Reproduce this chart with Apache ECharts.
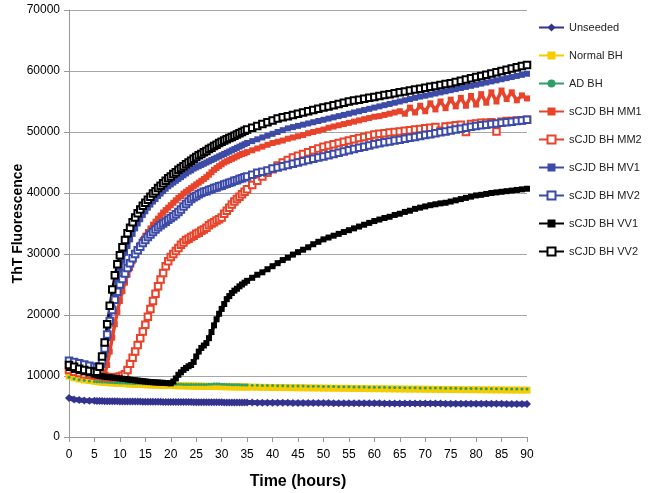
<!DOCTYPE html>
<html>
<head>
<meta charset="utf-8">
<script src="https://cdn.jsdelivr.net/npm/echarts@6/dist/echarts.min.js"></script>
<style>html,body{margin:0;padding:0;background:#fff}#c{width:649px;height:493px}</style>
</head>
<body>
<div id="c"></div>
<script>
const hours = [0,1,2,3,4,5,
5.5,6,6.5,7,7.5,8,8.5,9,9.5,10,
10.5,11,11.5,12,12.5,13,13.5,14,14.5,15,
15.5,16,16.5,17,17.5,18,18.5,19,19.5,20,
20.5,21,21.5,22,22.5,23,23.5,24,24.5,25,
25.5,26,26.5,27,27.5,28,28.5,29,29.5,30,
30.5,31,31.5,32,32.5,33,33.5,34,34.5,35,
36,37,38,39,40,41,42,43,44,45,46,47,48,49,50,51,52,53,54,55,56,57,58,59,60,61,62,63,64,65,66,67,68,69,70,71,72,73,74,75,76,77,78,79,80,81,82,83,84,85,86,87,88,89,90];
const xTicks = [0,5,10,15,20,25,30,35,40,45,50,55,60,65,70,75,80,85,90];
const yTicks = [0,10000,20000,30000,40000,50000,60000,70000];
const seriesNames = ['Unseeded','Normal BH','AD BH','sCJD BH MM1','sCJD BH MM2','sCJD BH MV1','sCJD BH MV2','sCJD BH VV1','sCJD BH VV2'];

const unseeded = [6400,6150,6050,6000,5960,5930,
5920,5900,5890,5880,5875,5870,5860,5850,5845,5840,
5835,5830,5825,5820,5810,5800,5800,5800,5795,5790,
5785,5780,5775,5770,5765,5760,5755,5750,5750,5750,
5745,5740,5735,5730,5725,5720,5720,5720,5715,5710,
5705,5700,5700,5700,5695,5690,5685,5680,5680,5680,
5675,5670,5665,5660,5660,5660,5655,5650,5650,5650,
5640,5630,5630,5620,
5620,5610,5600,5600,5590,5590,5580,5580,5570,5570,
5560,5560,5550,5550,5540,5540,5530,5530,5530,5520,
5520,5520,5510,5510,5510,5500,5500,5500,5490,5490,
5490,5480,5480,5480,5470,5470,5470,5460,5460,5460,
5450,5450,5450,5440,5440,5440,5430,5430,5430,5420,
5420];
const normalBH = [10000,9700,9500,9350,9250,9150,
9100,9050,9000,8950,8920,8900,8870,8850,8820,8800,
8770,8750,8720,8700,8670,8650,8630,8620,8600,8580,
8560,8550,8530,8520,8510,8500,8480,8470,8460,8450,
8430,8420,8410,8400,8390,8380,8370,8360,8350,8340,
8330,8320,8310,8300,8295,8290,8280,8270,8265,8260,
8250,8240,8235,8230,8220,8210,8205,8200,8190,8180,
8170,8160,8140,8130,
8120,8110,8100,8090,8080,8070,8060,8050,8040,8030,
8020,8010,8000,7990,7980,7970,7960,7950,7940,7930,
7920,7910,7900,7890,7880,7870,7860,7850,7850,7840,
7830,7820,7810,7800,7800,7790,7780,7770,7760,7760,
7750,7740,7740,7730,7720,7720,7710,7700,7700,7690,
7690];
const adBH = [9800,9550,9400,9300,9200,9100,
9070,9050,9020,9000,8970,8950,8920,8900,8880,8870,
8850,8840,8820,8810,8790,8780,8770,8760,8750,8740,
8730,8720,8710,8700,8690,8680,8675,8670,8660,8650,
8645,8640,8635,8630,8625,8620,8615,8610,8605,8600,
8600,8600,8610,8620,8640,8650,8670,8680,8670,8660,
8640,8620,8600,8580,8570,8560,8550,8540,8530,8520,
8500,8480,8460,8450,
8440,8420,8400,8380,8370,8360,8350,8330,8320,8300,
8290,8280,8260,8250,8240,8220,8210,8200,8180,8170,
8160,8150,8140,8120,8110,8100,8090,8080,8060,8050,
8040,8020,8050,8030,8000,7990,7980,7970,7960,7950,
7940,7930,7920,7910,7900,7890,7880,7870,7860,7850,
7850];
const mm1 = [11000,10800,10600,10400,10300,10200,
10150,10100,10100,10300,11800,14000,16300,18500,20500,22300,
23900,25300,26600,27700,28800,29800,30700,31500,32300,33000,
33600,34200,34800,35300,35800,36300,36800,37200,37600,38000,
38400,38800,39200,39500,39900,40200,40500,40800,41100,41400,
41700,42000,42300,42600,43000,43400,43800,44100,44400,44700,
45000,45200,45400,45600,45800,46000,46200,46400,46500,46700,
47000,47300,47600,47900,
48200,48400,48600,48900,49100,49300,49500,49800,50000,50200,
50400,50700,50900,51100,51300,51500,51700,51900,52100,52300,
52500,52600,52800,53000,53200,53400,53000,54000,53200,54300,
53400,54700,53700,55000,53900,55300,54200,55600,54300,55900,
54500,56200,54800,56500,55000,56800,55400,56500,55200,56000,
55500];
const mm2 = [11000,10700,10500,10300,10200,10100,
10050,10000,9950,9900,9850,9800,9800,9800,9850,9900,
10050,10300,11000,12000,13000,14000,15100,16200,17300,18400,
19700,21000,22300,23500,24700,25800,26900,28000,28800,29500,
30000,30500,31000,31500,31900,32300,32500,32800,33000,33300,
33500,33800,34000,34300,34700,35000,35200,35500,35700,36000,
36600,37100,37600,38100,38600,39000,39400,39800,40200,40600,
41300,42000,42700,43300,
43900,44500,45000,45400,45800,46100,46400,46700,47000,47300,
47600,47800,48000,48200,48400,48600,48800,49000,49200,49400,
49600,49700,49800,49900,50000,50100,50200,50300,50400,50500,
50600,50700,50800,50200,50900,51000,51100,51200,50000,51300,
51400,51500,51500,51600,50100,51700,51800,51800,51900,51900,
52000];
const mv1 = [12500,12200,12000,11800,11600,11400,
11350,11300,11800,13500,16200,19000,21600,24000,25800,27500,
28900,30200,31300,32400,33300,34200,35000,35700,36400,37000,
37600,38100,38600,39000,39500,39900,40300,40700,41100,41400,
41700,42000,42300,42600,42900,43200,43500,43700,44000,44200,
44400,44600,44800,45000,45200,45400,45600,45800,46000,46200,
46400,46600,46800,47000,47200,47400,47600,47800,48000,48200,
48500,48800,49100,49400,
49700,50000,50300,50600,50800,51000,51200,51400,51600,51800,
52000,52200,52400,52600,52800,53000,53200,53400,53600,53800,
54000,54200,54400,54600,54800,55000,55200,55400,55600,55800,
55950,56130,56310,56490,56670,56850,57030,57210,57390,57570,
57750,57930,58110,58290,58470,58650,58830,59010,59190,59370,
59550];
const mv2 = [12500,12300,12100,11900,11700,11500,
11450,11500,12500,14500,16800,19000,20800,22500,23800,25000,
25900,26800,27700,28500,29300,30000,30600,31200,31800,32300,
32800,33200,33600,34000,34400,34700,35000,35300,35600,35900,
36200,36500,36900,37300,37800,38200,38600,39000,39300,39500,
39800,40000,40200,40300,40500,40600,40800,40900,41100,41200,
41400,41500,41700,41800,42000,42100,42300,42400,42600,42700,
43000,43300,43500,43700,
44000,44200,44400,44600,44800,45000,45200,45400,45600,45800,
46000,46200,46400,46600,46800,47000,47200,47400,47600,47800,
48000,48150,48300,48450,48600,48750,48900,49050,49200,49350,
49500,49650,49800,49950,50100,50250,50400,50550,50700,50850,
51000,51100,51200,51300,51400,51500,51600,51700,51800,51900,
52000];
const vv1 = [11300,11000,10800,10600,10400,10200,
10100,10000,9950,9900,9850,9800,9750,9700,9650,9600,
9550,9500,9450,9400,9350,9300,9250,9200,9150,9100,
9050,9000,8980,8950,8930,8900,8880,8850,8830,8800,
9100,9600,10200,10600,11000,11300,11600,11800,12300,13200,
14000,14600,15000,15400,16200,17200,18300,19300,20200,21000,
21800,22600,23100,23600,24000,24300,24700,25000,25300,25600,
26100,26600,27000,27500,
28000,28500,29000,29400,29900,30300,30700,31100,31600,32000,
32400,32700,33000,33300,33600,33900,34200,34500,34800,35100,
35400,35650,35900,36100,36400,36600,36900,37100,37400,37600,
37800,38000,38150,38300,38400,38600,38800,39000,39200,39400,
39600,39700,39850,40000,40100,40200,40300,40400,40500,40600,
40700];
const vv2 = [11800,11500,11200,11000,10800,10700,
10700,11500,13200,15500,18500,21500,24200,26500,28300,29800,
31100,32300,33400,34300,35200,36000,36700,37300,37900,38400,
38900,39400,39900,40300,40800,41200,41600,42000,42400,42700,
43100,43400,43800,44100,44400,44700,45000,45300,45600,45900,
46200,46400,46700,46900,47200,47400,47700,47900,48200,48400,
48600,48800,49000,49200,49400,49600,49800,50000,50200,50400,
50700,51000,51300,51600,
51900,52200,52400,52600,52800,53000,53200,53400,53600,53800,
54000,54200,54400,54600,54800,55000,55150,55300,55450,55600,
55750,55900,56050,56200,56350,56500,56650,56800,56950,57100,
57250,57400,57550,57700,57850,58000,58200,58400,58600,58800,
59000,59200,59400,59600,59800,60000,60200,60400,60600,60800,
61000];

const valueLists = [unseeded, normalBH, adBH, mm1, mm2, mv1, mv2, vv1, vv2];
const styles = [
  {color:'#33338f', symbol:'diamond', size:8, lw:5, legendLw:2},
  {color:'#f5cc00', symbol:'rect', size:7, lw:5, legendLw:2},
  {color:'#2e9e6a', symbol:'circle', size:3, lw:2.5, legendLw:2},
  {color:'#e8432b', symbol:'rect', size:6, lw:3.5, legendLw:2},
  {color:'#e8432b', symbol:'emptyRect', size:6.5, lw:1.2, legendLw:2},
  {color:'#3d4ba8', symbol:'rect', size:6, lw:3.5, legendLw:2},
  {color:'#3d4ba8', symbol:'emptyRect', size:6.5, lw:1.2, legendLw:2},
  {color:'#000000', symbol:'rect', size:6, lw:3.5, legendLw:2},
  {color:'#000000', symbol:'emptyRect', size:6.5, lw:2.5, legendLw:2}
];
const FONT = 'Liberation Sans, Arial, sans-serif';

const series = seriesNames.map((name, i) => ({
  name: name,
  type: 'line',
  data: hours.map((h, j) => [h, valueLists[i][j]]),
  symbol: styles[i].symbol,
  symbolSize: styles[i].size,
  showAllSymbol: true,
  animation: false,
  lineStyle: {color: styles[i].color, width: styles[i].lw},
  itemStyle: {color: styles[i].color, borderColor: styles[i].color, borderWidth: styles[i].symbol === 'emptyRect' ? 1.3 : 0}
}));

const chart = echarts.init(document.getElementById('c'), null, {renderer: 'canvas'});
chart.setOption({
  animation: false,
  backgroundColor: '#ffffff',
  grid: {left: 69, right: 122, top: 10, bottom: 56, containLabel: false, outerBoundsMode: 'none'},
  legend: {
    orient: 'vertical', left: 533, top: 17,
    itemWidth: 25, itemHeight: 10, itemGap: 17,
    textStyle: {fontFamily: FONT, fontSize: 11, color: '#222'},
    data: seriesNames.map((n, i) => ({name: n, lineStyle: {width: styles[i].legendLw}}))
  },
  xAxis: {
    type: 'value', min: xTicks[0], max: xTicks[xTicks.length - 1], interval: 5,
    name: 'Time (hours)', nameLocation: 'middle', nameGap: 37, nameMoveOverlap: false,
    nameTextStyle: {fontFamily: FONT, fontSize: 16, fontWeight: 'bold', color: '#000'},
    axisLine: {show: true, lineStyle: {color: '#999', width: 1}},
    axisTick: {show: true, length: 5, lineStyle: {color: '#999'}},
    axisLabel: {fontFamily: FONT, fontSize: 12, color: '#000', margin: 12},
    splitLine: {show: false}
  },
  yAxis: {
    type: 'value', min: yTicks[0], max: yTicks[yTicks.length - 1], interval: 10000,
    name: 'ThT Fluorescence', nameLocation: 'middle', nameGap: 44, nameRotate: 90, nameMoveOverlap: false,
    nameTextStyle: {fontFamily: FONT, fontSize: 14, fontWeight: 'bold', color: '#000'},
    axisLine: {show: true, lineStyle: {color: '#999', width: 1}},
    axisTick: {show: true, length: 5, lineStyle: {color: '#999'}},
    axisLabel: {fontFamily: FONT, fontSize: 12, color: '#000', margin: 9, formatter: function (v) { return String(v); }},
    splitLine: {show: true, lineStyle: {color: '#a6a6a6', width: 1}}
  },
  series: series
});
</script>
</body>
</html>
